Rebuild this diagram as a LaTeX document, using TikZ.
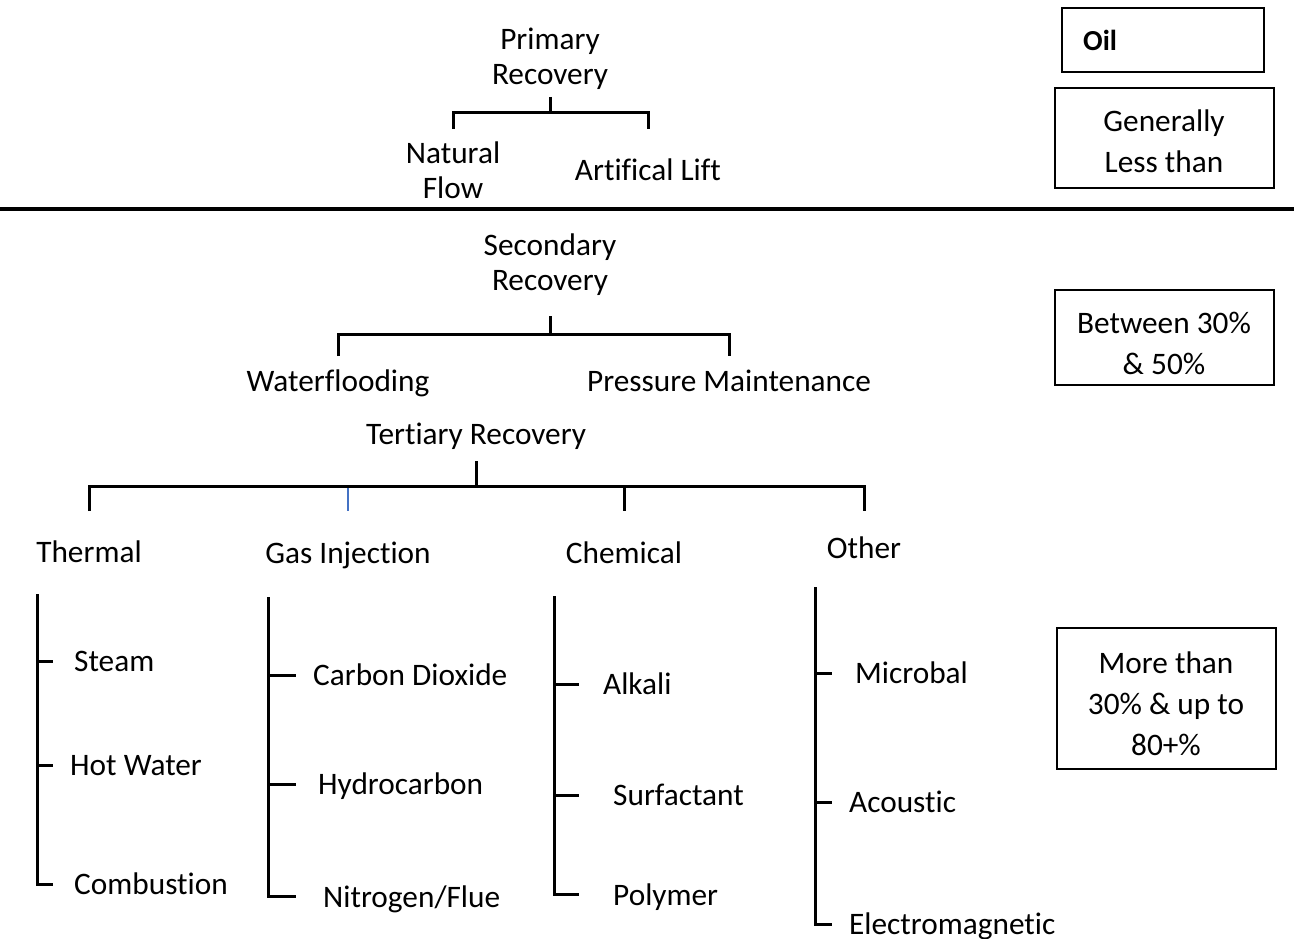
\documentclass[tikz,border=0pt]{standalone}
\usepackage{fontspec}
\setmainfont{Carlito}[Ligatures=NoCommon]
\begin{document}
\begin{tikzpicture}[x=1pt,y=-1pt,
  lab/.style={inner sep=0pt, font=\fontsize{31.3}{35}\selectfont, align=center, yshift=-3pt},
  boxtxt/.style={inner sep=0pt, font=\fontsize{31.3}{41}\selectfont, align=center, yshift=-3pt},
  frame/.style={draw=black, line width=1.4pt},
  br/.style={draw=black, line width=3pt},
  tick/.style={draw=black, line width=3pt},
  bluedrop/.style={draw={rgb,255:red,68;green,114;blue,196}, line width=2.2pt}]
\useasboundingbox (0,0) rectangle (1294,939);

% ---------- Primary recovery ----------
\node[lab] (pr) at (550,57) {\strut Primary\\\strut Recovery};
\node[lab] (nf) at (453,171) {\strut Natural\\\strut Flow};
\node[lab] (al) at (648,171) {\strut Artifical Lift};
\coordinate (prj) at (550,113);
\draw[br] (prj |- 0,97) -- (prj);
\draw[br] (nf.north |- 0,129) -- (nf.north |- prj) -- (al.north |- prj) -- (al.north |- 0,129);

% ---------- boxes top right ----------
\draw[frame] (1062,8) rectangle (1264,72);
\node[inner sep=0pt, anchor=west, yshift=-3pt, font=\fontsize{29}{35}\selectfont\bfseries] (oil) at (1083,41) {\strut Oil};
\draw[frame] (1055,88) rectangle (1274,188);
\node[boxtxt] (gen) at (1164,141) {\strut Generally\\\strut Less than};

% ---------- divider ----------
\draw[line width=4pt] (0,209) -- (1294,209);

% ---------- Secondary recovery ----------
\node[lab] (sr) at (550,263) {\strut Secondary\\\strut Recovery};
\node[lab] (wf) at (338,381) {\strut Waterflooding};
\node[lab] (pm) at (729,381) {\strut Pressure Maintenance};
\coordinate (srj) at (550,334);
\draw[br] (srj |- 0,316) -- (srj);
\draw[br] (wf.north |- 0,356) -- (wf.north |- srj) -- (pm.north |- srj) -- (pm.north |- 0,356);

\draw[frame] (1055,290) rectangle (1274,385);
\node[boxtxt] (btw) at (1164,343) {\strut Between 30\%\\\strut \& 50\%};

% ---------- Tertiary recovery ----------
\node[lab] (tr) at (476,434) {\strut Tertiary Recovery};
\node[lab] (th) at (89,552) {\strut Thermal};
\node[lab] (gi) at (348,553) {\strut Gas Injection};
\node[lab] (ch) at (624,553) {\strut Chemical};
\node[lab] (ot) at (864,548) {\strut Other};
\coordinate (trj) at (476,486);
\draw[br] (trj |- 0,461) -- (trj);
\draw[br] (th.north |- 0,511) -- (th.north |- trj) -- (ot.north |- trj) -- (ot.north |- 0,511);
\draw[br] (ch.north |- trj) -- (ch.north |- 0,511);
\draw[bluedrop] (gi.north |- 0,488) -- (gi.north |- 0,511);

\draw[frame] (1057,628) rectangle (1276,769);
\node[boxtxt] (more) at (1166,703) {\strut More than\\\strut 30\% \& up to\\\strut 80+\%};

% ---------- Thermal ----------
\node[lab, anchor=west] (steam) at (74,661) {\strut Steam};
\node[lab, anchor=west] (hw) at (70,765) {\strut Hot Water};
\node[lab, anchor=west] (comb) at (74,884) {\strut Combustion};
\coordinate (thv) at (37,594);
\draw[br] (thv) -- (thv |- 0,884) -- (53,884);
\draw[tick] (thv |- 0,661) -- (53,661);
\draw[tick] (thv |- 0,765) -- (53,765);

% ---------- Gas injection ----------
\node[lab, anchor=west] (co2) at (313,675) {\strut Carbon Dioxide};
\node[lab, anchor=west] (hc) at (318,784) {\strut Hydrocarbon};
\node[lab, anchor=west] (nit) at (323,897) {\strut Nitrogen/Flue};
\coordinate (giv) at (268,597);
\draw[br] (giv) -- (giv |- 0,896) -- (296,896);
\draw[tick] (giv |- 0,675) -- (296,675);
\draw[tick] (giv |- 0,784) -- (296,784);

% ---------- Chemical ----------
\node[lab, anchor=west] (alk) at (603,684) {\strut Alkali};
\node[lab, anchor=west] (surf) at (613,795) {\strut Surfactant};
\node[lab, anchor=west] (poly) at (613,895) {\strut Polymer};
\coordinate (chv) at (554,596);
\draw[br] (chv) -- (chv |- 0,894) -- (579,894);
\draw[tick] (chv |- 0,684) -- (579,684);
\draw[tick] (chv |- 0,795) -- (579,795);

% ---------- Other ----------
\node[lab, anchor=west] (mic) at (855,673) {\strut Microbal};
\node[lab, anchor=west] (ac) at (849,802) {\strut Acoustic};
\node[lab, anchor=west] (em) at (849,924) {\strut Electromagnetic};
\coordinate (otv) at (815,587);
\draw[br] (otv) -- (otv |- 0,924) -- (832,924);
\draw[tick] (otv |- 0,673) -- (832,673);
\draw[tick] (otv |- 0,802) -- (832,802);
\end{tikzpicture}
\end{document}
